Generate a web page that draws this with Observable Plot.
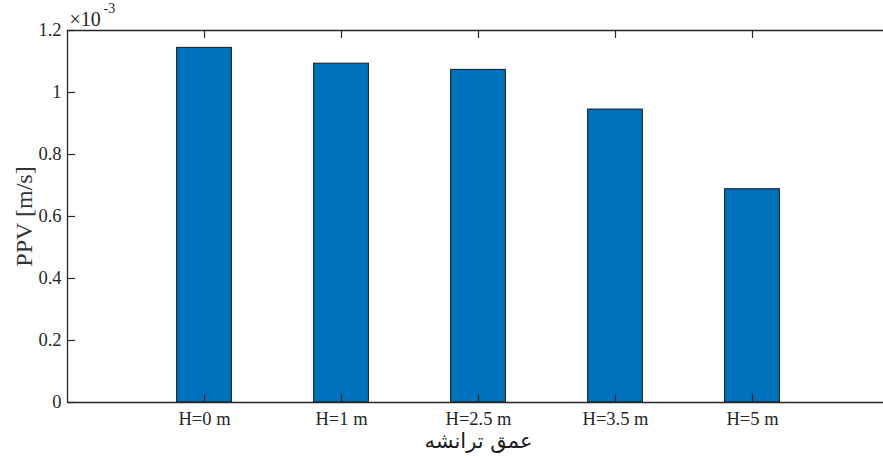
<!DOCTYPE html>
<html>
<head>
<meta charset="utf-8">
<script src="https://cdn.jsdelivr.net/npm/d3@7"></script>
<script src="https://cdn.jsdelivr.net/npm/@observablehq/plot@0.6"></script>
<style>
  html, body { margin: 0; padding: 0; background: #fff; }
  #chart svg { display: block; }
</style>
</head>
<body>
<div id="chart"></div>
<script>
// Categories (trench depth) and PPV values (×10^-3 m/s)
const categories = ["H=0 m", "H=1 m", "H=2.5 m", "H=3.5 m", "H=5 m"];
const ppv = [1.144, 1.093, 1.073, 0.945, 0.688];
const yTicks = [0, 0.2, 0.4, 0.6, 0.8, 1, 1.2];
const yTickLabels = ["0", "0.2", "0.4", "0.6", "0.8", "1", "1.2"];
const yLabel = "PPV [m/s]";
const xLabel = "عمق ترانشه";
const exponentBase = "×10";
const exponentPower = "-3";

const data = categories.map((c, i) => ({cat: c, pos: i + 1, v: ppv[i]}));
const positions = data.map(d => d.pos);

const axisColor = "#262626";
const barHalf = 0.2;

const chart = Plot.plot({
  width: 883,
  height: 459,
  marginLeft: 67,
  marginRight: -6,
  marginTop: 30,
  marginBottom: 57,
  style: {fontFamily: "'Liberation Serif', 'Times New Roman', serif", fontSize: "18.5px", color: axisColor, background: "#fff"},
  x: {domain: [0, 6]},
  y: {domain: [0, 1.2]},
  marks: [
    Plot.rectY(data, {x1: d => d.pos - barHalf, x2: d => d.pos + barHalf, y1: 0, y2: "v", fill: "#0072BD", stroke: "#1a1a1a", strokeWidth: 1}),
    // box lines
    Plot.ruleY([0, 1.2], {stroke: axisColor, strokeWidth: 1.3}),
    Plot.ruleX([0, 6], {stroke: axisColor, strokeWidth: 1.3}),
    // inward ticks
    Plot.tickX(positions, {x: d => d, insetTop: 364, stroke: axisColor, strokeWidth: 1.2}),
    Plot.tickX(positions, {x: d => d, insetBottom: 364, stroke: axisColor, strokeWidth: 1.2}),
    Plot.tickY(yTicks, {y: d => d, insetRight: 814, stroke: axisColor, strokeWidth: 1.2}),
    // tick labels
    Plot.axisX({ticks: positions, tickFormat: d => categories[d - 1], tickSize: 0, tickPadding: 9, label: null, fontSize: 18.5}),
    Plot.axisY({ticks: yTicks, tickFormat: d => yTickLabels[yTicks.indexOf(d)], tickSize: 0, tickPadding: 6, label: null, fontSize: 18.5}),
    // axis titles
    Plot.text([yLabel], {frameAnchor: "left", textAnchor: "middle", lineAnchor: "middle", rotate: -90, dx: -43, fontSize: 24, fill: "#333"}),
    Plot.text([xLabel], {frameAnchor: "bottom", textAnchor: "middle", lineAnchor: "middle", dy: 39, fontSize: 21, fontFamily: "'DejaVu Sans', sans-serif", fill: "#1a1a1a"}),
    // exponent
    Plot.text([exponentBase], {frameAnchor: "top-left", textAnchor: "start", lineAnchor: "middle", dx: 2, dy: -11, fontSize: 20, fill: axisColor}),
    Plot.text([exponentPower], {frameAnchor: "top-left", textAnchor: "start", lineAnchor: "middle", dx: 36, dy: -22, fontSize: 14, fill: axisColor})
  ]
});
document.getElementById("chart").appendChild(chart);
</script>
</body>
</html>
